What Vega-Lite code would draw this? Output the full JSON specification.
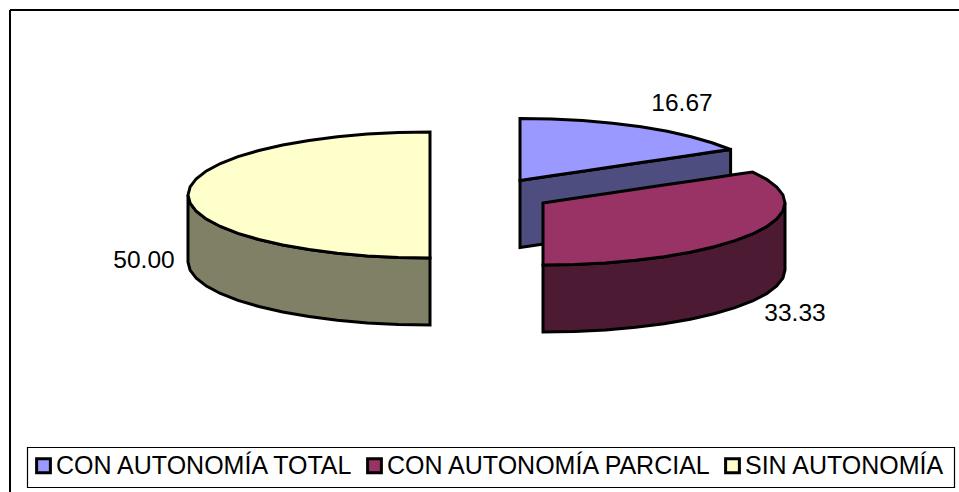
{"$schema":"https://vega.github.io/schema/vega-lite/v6.json","width":949,"height":482,"padding":{"left":10,"top":10,"right":0,"bottom":0},"autosize":{"type":"none"},"background":"white","view":{"stroke":null,"fill":"white"},
"layer":[
{"data":{"values":[{"left":27.5,"right":954.5,"top":447.5,"bottom":487.5}]},"mark":{"type":"rect","fill":"white","stroke":"black","strokeWidth":1.2},"encoding":{"x":{"field":"left","type":"quantitative","scale":{"domain":[10,959],"zero":false,"nice":false},"axis":null},"x2":{"field":"right"},"y":{"field":"top","type":"quantitative","scale":{"domain":[10,492],"zero":false,"nice":false,"reverse":true},"axis":null},"y2":{"field":"bottom"}}},
{"data":{"values":[
{"part":"SIN lateral","x":188,"y":195,"y2":262},{"part":"SIN lateral","x":190.1,"y":203.2,"y2":270.2},{"part":"SIN lateral","x":196.3,"y":211.3,"y2":278.3},{"part":"SIN lateral","x":206.4,"y":219.1,"y2":286.1},{"part":"SIN lateral","x":220.4,"y":226.5,"y2":293.5},{"part":"SIN lateral","x":238,"y":233.4,"y2":300.4},{"part":"SIN lateral","x":258.9,"y":239.5,"y2":306.5},{"part":"SIN lateral","x":282.7,"y":245,"y2":312},{"part":"SIN lateral","x":309,"y":249.6,"y2":316.6},{"part":"SIN lateral","x":337.4,"y":253.2,"y2":320.2},{"part":"SIN lateral","x":367.4,"y":255.9,"y2":322.9},{"part":"SIN lateral","x":398.4,"y":257.5,"y2":324.5},{"part":"SIN lateral","x":430,"y":258,"y2":325},
{"part":"SIN AUTONOMÍA","x":188,"y":195,"y2":195},{"part":"SIN AUTONOMÍA","x":190.1,"y":186.8,"y2":203.2},{"part":"SIN AUTONOMÍA","x":196.3,"y":178.7,"y2":211.3},{"part":"SIN AUTONOMÍA","x":206.4,"y":170.9,"y2":219.1},{"part":"SIN AUTONOMÍA","x":220.4,"y":163.5,"y2":226.5},{"part":"SIN AUTONOMÍA","x":238,"y":156.6,"y2":233.4},{"part":"SIN AUTONOMÍA","x":258.9,"y":150.5,"y2":239.5},{"part":"SIN AUTONOMÍA","x":282.7,"y":145,"y2":245},{"part":"SIN AUTONOMÍA","x":309,"y":140.4,"y2":249.6},{"part":"SIN AUTONOMÍA","x":337.4,"y":136.8,"y2":253.2},{"part":"SIN AUTONOMÍA","x":367.4,"y":134.1,"y2":255.9},{"part":"SIN AUTONOMÍA","x":398.4,"y":132.5,"y2":257.5},{"part":"SIN AUTONOMÍA","x":430,"y":132,"y2":258},
{"part":"TOTAL lateral","x":520,"y":180.5,"y2":247.5},{"part":"TOTAL lateral","x":730.6,"y":149.5,"y2":216.5},
{"part":"CON AUTONOMÍA TOTAL","x":520,"y":118.5,"y2":180.5},{"part":"CON AUTONOMÍA TOTAL","x":551.6,"y":119,"y2":175.8},{"part":"CON AUTONOMÍA TOTAL","x":582.6,"y":120.6,"y2":171.2},{"part":"CON AUTONOMÍA TOTAL","x":612.6,"y":123.2,"y2":166.8},{"part":"CON AUTONOMÍA TOTAL","x":641,"y":126.8,"y2":162.6},{"part":"CON AUTONOMÍA TOTAL","x":667.3,"y":131.3,"y2":158.7},{"part":"CON AUTONOMÍA TOTAL","x":691.1,"y":136.7,"y2":155.2},{"part":"CON AUTONOMÍA TOTAL","x":712,"y":142.8,"y2":152.1},{"part":"CON AUTONOMÍA TOTAL","x":730.6,"y":149.5,"y2":149.5},
{"part":"PARCIAL lateral","x":543,"y":265,"y2":332},{"part":"PARCIAL lateral","x":574.6,"y":264.5,"y2":331.5},{"part":"PARCIAL lateral","x":605.6,"y":262.9,"y2":329.9},{"part":"PARCIAL lateral","x":635.6,"y":260.3,"y2":327.3},{"part":"PARCIAL lateral","x":664,"y":256.7,"y2":323.7},{"part":"PARCIAL lateral","x":690.3,"y":252.2,"y2":319.2},{"part":"PARCIAL lateral","x":714.1,"y":246.8,"y2":313.8},{"part":"PARCIAL lateral","x":735,"y":240.7,"y2":307.7},{"part":"PARCIAL lateral","x":752.6,"y":234,"y2":301},{"part":"PARCIAL lateral","x":766.6,"y":226.7,"y2":293.7},{"part":"PARCIAL lateral","x":776.7,"y":219,"y2":286},{"part":"PARCIAL lateral","x":782.9,"y":211.1,"y2":278.1},{"part":"PARCIAL lateral","x":785,"y":203,"y2":270},
{"part":"CON AUTONOMÍA PARCIAL","x":543,"y":203,"y2":265},{"part":"CON AUTONOMÍA PARCIAL","x":574.6,"y":198.3,"y2":264.5},{"part":"CON AUTONOMÍA PARCIAL","x":605.6,"y":193.7,"y2":262.9},{"part":"CON AUTONOMÍA PARCIAL","x":635.6,"y":189.3,"y2":260.3},{"part":"CON AUTONOMÍA PARCIAL","x":664,"y":185.1,"y2":256.7},{"part":"CON AUTONOMÍA PARCIAL","x":690.3,"y":181.2,"y2":252.2},{"part":"CON AUTONOMÍA PARCIAL","x":714.1,"y":177.7,"y2":246.8},{"part":"CON AUTONOMÍA PARCIAL","x":735,"y":174.6,"y2":240.7},{"part":"CON AUTONOMÍA PARCIAL","x":752.6,"y":172,"y2":234},{"part":"CON AUTONOMÍA PARCIAL","x":766.6,"y":179.3,"y2":226.7},{"part":"CON AUTONOMÍA PARCIAL","x":776.7,"y":187,"y2":219},{"part":"CON AUTONOMÍA PARCIAL","x":782.9,"y":194.9,"y2":211.1},{"part":"CON AUTONOMÍA PARCIAL","x":785,"y":203,"y2":203}
]},
"mark":{"type":"area","stroke":"black","strokeWidth":3,"strokeJoin":"miter","opacity":1,"fillOpacity":1},
"encoding":{
"x":{"field":"x","type":"quantitative"},
"y":{"field":"y","type":"quantitative","stack":null},
"y2":{"field":"y2"},
"color":{"field":"part","type":"nominal","sort":null,"scale":{"domain":["CON AUTONOMÍA TOTAL","CON AUTONOMÍA PARCIAL","SIN AUTONOMÍA","TOTAL lateral","PARCIAL lateral","SIN lateral"],"range":["#9999FF","#993366","#FFFFCC","#4D4D80","#4D1A33","#808066"]},
"legend":{"values":["CON AUTONOMÍA TOTAL","CON AUTONOMÍA PARCIAL","SIN AUTONOMÍA"],"title":null,"orient":"none","legendX":16,"legendY":438,"columns":3,"columnPadding":6,"padding":5,"symbolType":"square","symbolSize":190,"symbolStrokeColor":"black","symbolStrokeWidth":3,"symbolOpacity":1,"labelFont":"Liberation Sans","labelFontSize":25,"labelColor":"black","labelOffset":0,"labelLimit":500,"rowPadding":0}}
}},
{"data":{"values":[{"label":16.67,"x":682,"y":104},{"label":33.33,"x":795,"y":314},{"label":50.00,"x":144,"y":261}]},
"mark":{"type":"text","font":"Liberation Sans","fontSize":24.5,"color":"black","align":"center","baseline":"middle"},
"encoding":{"x":{"field":"x","type":"quantitative"},"y":{"field":"y","type":"quantitative"},"text":{"field":"label","type":"quantitative","format":".2f"}}},
{"data":{"values":[{"edge":10}]},"mark":{"type":"rule","color":"black","strokeWidth":2},"encoding":{"x":{"field":"edge","type":"quantitative"}}},
{"data":{"values":[{"edge":10}]},"mark":{"type":"rule","color":"black","strokeWidth":2},"encoding":{"y":{"field":"edge","type":"quantitative"}}}
]}
